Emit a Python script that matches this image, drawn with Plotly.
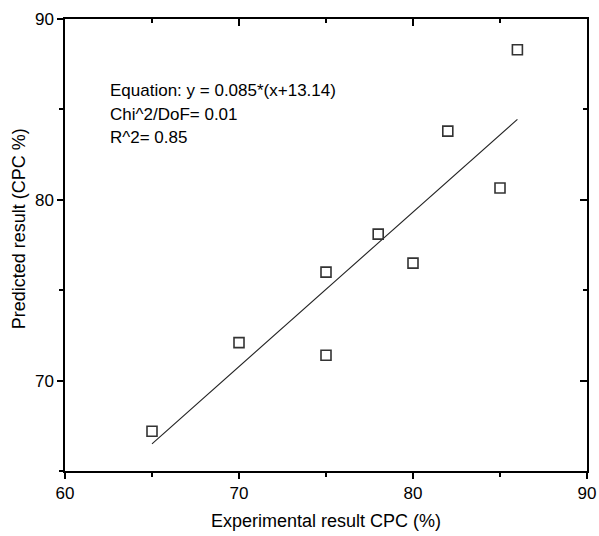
import plotly.graph_objects as go

# Data
exp_x = [65, 70, 75, 75, 78, 80, 82, 85, 86]
pred_y = [67.2, 72.1, 76.0, 71.4, 78.1, 76.5, 83.8, 80.65, 88.3]
fit_x = [65, 86]
fit_y = [66.5, 84.45]

x_range = [60, 90]
y_range = [65, 90]
x_ticks = [60, 70, 80, 90]
y_ticks = [70, 80, 90]

notes = ["Equation: y = 0.085*(x+13.14)", "Chi^2/DoF= 0.01", "R^2= 0.85"]
x_title = "Experimental result CPC (%)"
y_title = "Predicted result (CPC %)"

FONT = "Liberation Sans, Arial, sans-serif"

fig = go.Figure()
fig.add_trace(go.Scatter(x=fit_x, y=fit_y, mode="lines",
                         line=dict(color="#222222", width=1.1),
                         showlegend=False, hoverinfo="skip"))
fig.add_trace(go.Scatter(x=exp_x, y=pred_y, mode="markers",
                         marker=dict(symbol="square-open", size=10,
                                     color="#333333", line=dict(width=1.6, color="#333333")),
                         showlegend=False))
# invisible trace to host the mirrored (top/right) axes
fig.add_trace(go.Scatter(x=[x_range[0]], y=[y_range[0]], xaxis="x2", yaxis="y2",
                         mode="markers", marker=dict(opacity=0), showlegend=False,
                         hoverinfo="skip"))

axis_common = dict(showgrid=False, zeroline=False, showline=True,
                   linecolor="black", linewidth=1.5, tickcolor="black",
                   tickwidth=1.5, automargin=False)

fig.update_layout(
    width=599, height=536,
    margin=dict(l=65, r=12, t=19, b=65),
    paper_bgcolor="white", plot_bgcolor="white",
    font=dict(family=FONT, color="black", size=16),
    xaxis=dict(**axis_common, range=x_range, tickvals=x_ticks, ticks="outside",
               ticklen=6, minor=dict(dtick=5, ticks="outside", ticklen=4,
                                     tickcolor="black", tickwidth=1.5),
               tickfont=dict(size=17, family=FONT),
               title=dict(text=x_title, font=dict(size=18, family=FONT),
                          standoff=12)),
    yaxis=dict(**axis_common, range=y_range, tickvals=y_ticks, ticks="outside",
               ticklen=6, minor=dict(dtick=5, tick0=65, ticks="outside", ticklen=4,
                                     tickcolor="black", tickwidth=1.5),
               tickfont=dict(size=17, family=FONT)),
    xaxis2=dict(**axis_common, range=x_range, tickvals=x_ticks, overlaying="x", side="top",
                ticks="inside", ticklen=7, showticklabels=False,
                minor=dict(dtick=5, ticks="inside", ticklen=4, tickcolor="black", tickwidth=1.5)),
    yaxis2=dict(**axis_common, range=y_range, tickvals=y_ticks, overlaying="y", side="right",
                ticks="inside", ticklen=7, showticklabels=False,
                minor=dict(dtick=5, tick0=65, ticks="inside", ticklen=4, tickcolor="black",
                           tickwidth=1.5)),
)

fig.add_annotation(text=y_title, xref="paper", yref="paper", x=-0.088, y=0.535,
                   xanchor="center", yanchor="middle", textangle=-90, showarrow=False,
                   font=dict(size=18, family=FONT, color="black"))

note_y = [86.05, 84.72, 83.45]
for txt, yy in zip(notes, note_y):
    fig.add_annotation(text=txt, xref="paper", yref="y", x=0.082, y=yy,
                       xanchor="left", yanchor="middle", showarrow=False,
                       font=dict(size=17, family=FONT, color="black"))

fig.write_html("out.html")
